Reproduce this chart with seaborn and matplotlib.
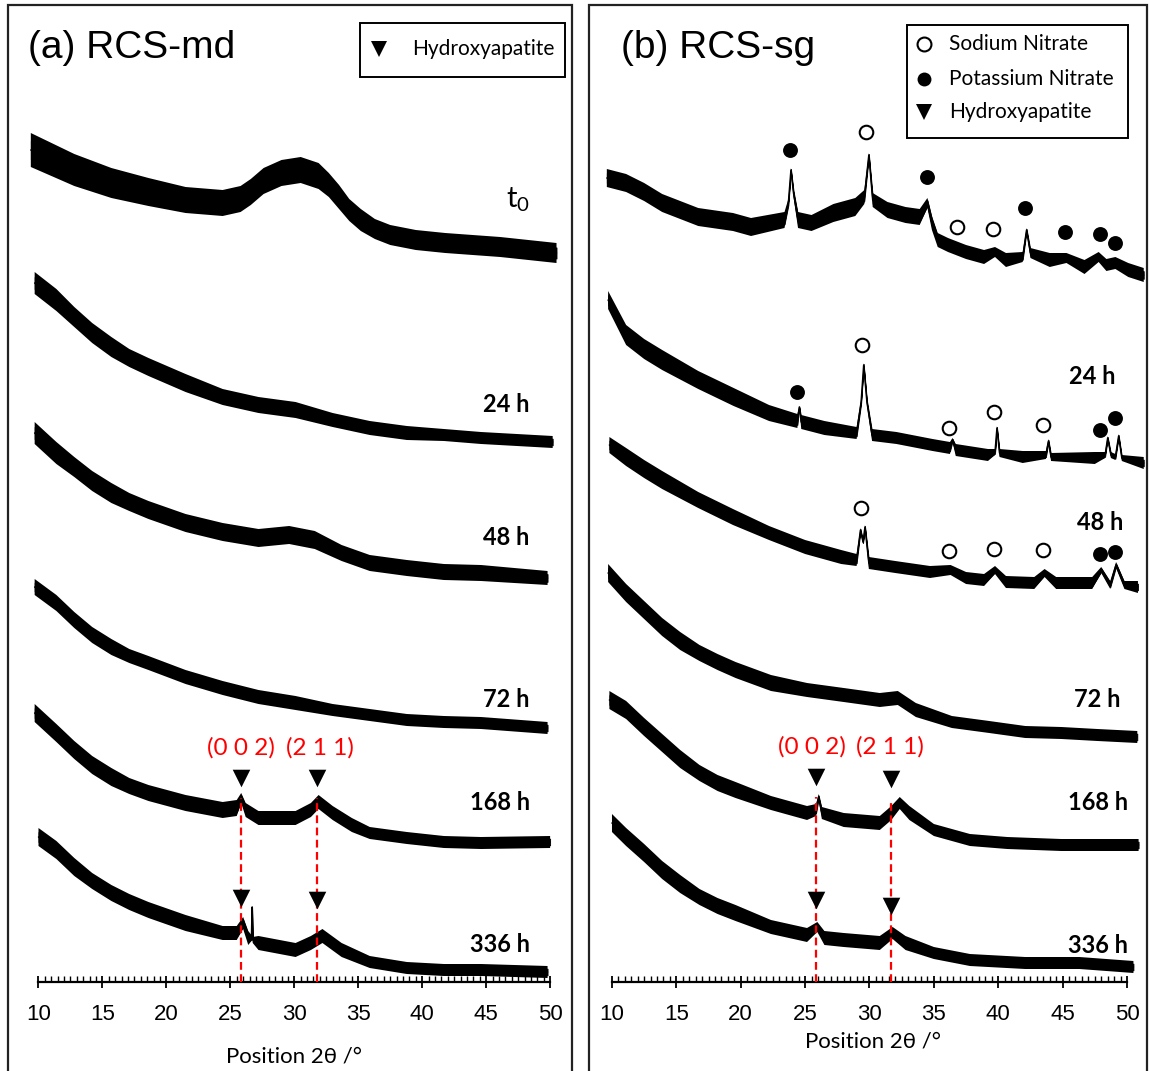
"""
XRD patterns of RCS-md and RCS-sg after immersion (t0 ... 336 h)
"""
import matplotlib.pyplot as plt
import seaborn as sns
import numpy as np
import pandas as pd
from matplotlib.patches import Rectangle

# ---- (a) RCS-md : 2theta (deg), stacked intensity (a.u.), noise half-width ----
md_t0_x = [9.4, 12.8, 15.7, 18.6, 21.5, 24.4, 25.8, 26.6, 27.6, 29.0, 30.5, 31.9, 32.7, 33.5, 34.3, 35.2, 36.3,
           37.5, 39.5, 41.8, 46.1, 50.5]
md_t0_y = [832, 812, 799, 790, 782, 779, 783, 790, 801, 809, 812, 806, 797, 785, 772, 762, 753,
           747, 742, 739, 735, 729]
md_t0_n = [17, 16, 15, 14, 13, 13, 13, 13, 13, 13, 13, 13, 12, 12, 11, 11, 10,
           10, 10, 10, 10, 10]

md_24_x = [9.7, 11.4, 12.8, 14.2, 15.7, 17.1, 18.6, 21.5, 24.4, 27.2, 30.1, 33.0, 35.9, 38.8, 41.7, 44.6, 50.2]
md_24_y = [699, 682, 665, 649, 635, 624, 615, 599, 585, 577, 572, 562, 554, 549, 547, 544, 540]
md_24_n = [11, 11, 10, 10, 10, 9, 9, 9, 8, 8, 8, 7, 7, 7, 6, 6, 6]

md_48_x = [9.7, 11.4, 12.8, 14.2, 15.7, 17.1, 18.6, 21.5, 24.4, 27.2, 29.6, 31.6, 33.7, 35.9, 38.8, 41.7, 44.6, 49.8]
md_48_y = [549, 529, 515, 501, 489, 480, 472, 459, 450, 444, 447, 442, 429, 419, 414, 410, 409, 404]
md_48_n = [11, 11, 10, 10, 10, 9, 9, 9, 9, 9, 9, 9, 8, 8, 8, 8, 8, 7]

md_72_x = [9.7, 11.4, 12.8, 14.2, 15.7, 17.1, 18.6, 21.5, 24.4, 27.2, 30.1, 33.0, 35.9, 38.8, 41.7, 44.6, 49.8]
md_72_y = [395, 379, 362, 347, 335, 326, 319, 305, 294, 285, 279, 272, 267, 262, 260, 259, 254]
md_72_n = [8, 8, 8, 8, 8, 7, 7, 7, 7, 7, 7, 6, 6, 6, 6, 6, 6]

md_168_x = [9.7, 11.4, 12.8, 14.2, 15.7, 17.1, 18.6, 21.5, 24.4, 25.5, 25.85, 26.2, 27.2, 30.1, 31.3, 31.9, 33.0,
            34.5, 35.9, 38.8, 41.7, 44.6, 50.0]
md_168_y = [269, 249, 232, 217, 205, 196, 189, 179, 172, 174, 184, 172, 164, 164, 172, 180, 169,
            157, 149, 144, 140, 139, 140]
md_168_n = [9, 9, 9, 9, 9, 8, 8, 8, 8, 8, 5, 7, 7, 7, 7, 7, 7, 7, 6, 6, 6, 6, 6]

md_336_x = [10.0, 11.4, 12.8, 14.2, 15.7, 17.1, 18.6, 21.5, 24.4, 25.5, 26.0, 26.4, 26.65, 26.7, 26.75, 27.2, 30.1,
            31.3, 32.2, 33.7, 35.9, 38.8, 41.7, 44.6, 49.8]
md_336_y = [145, 132, 115, 101, 89, 80, 72, 59, 49, 49, 59, 44, 44, 75, 42, 39, 32,
            39, 46, 32, 20, 14, 12, 12, 10]
md_336_n = [9, 9, 9, 8, 8, 8, 8, 8, 7, 7, 6, 7, 3, 1, 3, 7, 7, 7, 7, 7, 6, 6, 6, 6, 6]

# ---- (b) RCS-sg ----
sg_t0_x = [9.6, 11.1, 12.5, 13.9, 16.7, 19.4, 20.8, 23.4, 23.7, 23.9, 24.1, 24.45, 25.5, 27.2, 28.9, 29.6, 29.95, 30.25,
           31.4, 32.8, 33.9, 34.5, 34.85, 35.3, 36.1, 37.5, 38.9, 39.75, 40.6, 41.9, 42.2, 42.5, 44.0, 45.3, 46.7, 47.8,
           48.4, 49.1, 50.1, 51.3]
sg_t0_y = [804, 799, 790, 779, 765, 760, 755, 762, 779, 812, 789, 762, 759, 769, 775, 785, 827, 782,
           772, 767, 765, 779, 759, 742, 737, 730, 725, 730, 722, 725, 752, 729, 722, 724, 715, 725,
           717, 719, 712, 707]
sg_t0_n = [9, 9, 9, 9, 9, 9, 9, 8, 4, 2, 4, 8, 8, 9, 9, 7, 2, 7,
           8, 8, 8, 5, 7, 7, 7, 7, 7, 5, 7, 5, 2, 5, 7, 5, 7, 5,
           6, 6, 7, 7]

sg_24_x = [9.7, 11.1, 12.5, 13.9, 16.7, 19.45, 22.2, 24.4, 24.55, 24.7, 26.5, 29.0, 29.35, 29.55, 29.8, 30.2, 32.1, 34.9,
           36.25, 36.45, 36.7, 39.2, 39.75, 39.9, 40.1, 41.9, 43.7, 43.9, 44.1, 47.5, 48.3, 48.5, 48.75, 49.1, 49.35,
           49.6, 51.3]
sg_24_y = [682, 647, 633, 622, 602, 585, 569, 561, 575, 560, 554, 549, 580, 617, 580, 547, 544, 537,
           534, 542, 532, 527, 530, 554, 529, 525, 527, 541, 525, 524, 527, 544, 527, 525, 546,
           524, 519]
sg_24_n = [9, 10, 10, 10, 9, 9, 8, 7, 1, 7, 7, 6, 3, 2, 3, 6, 6, 6,
           6, 2, 6, 6, 3, 2, 4, 6, 4, 2, 4, 6, 3, 2, 3, 3, 2,
           3, 6]

sg_48_x = [9.8, 11.1, 12.5, 13.9, 16.7, 19.4, 22.2, 25.0, 27.8, 29.0, 29.3, 29.5, 29.65, 29.95, 32.0, 34.7, 36.3, 37.5,
           38.9, 39.75, 40.6, 42.8, 43.6, 44.5, 47.3, 48.0, 48.7, 49.15, 49.8, 50.85]
sg_48_y = [537, 525, 513, 502, 482, 465, 449, 435, 425, 422, 452, 440, 455, 419, 415, 410, 412, 404,
           402, 412, 400, 399, 409, 399, 399, 412, 397, 417, 397, 395]
sg_48_n = [8, 9, 9, 9, 8, 8, 7, 7, 7, 6, 2, 2, 2, 6, 6, 6, 5, 6,
           6, 4, 6, 6, 4, 6, 6, 3, 4, 3, 4, 6]

sg_72_x = [9.7, 11.1, 12.5, 13.9, 15.3, 16.8, 18.2, 19.6, 22.35, 25.15, 28.0, 30.8, 32.2, 33.6, 36.4, 39.3, 42.1, 44.9,
           47.7, 50.8]
sg_72_y = [409, 389, 372, 355, 341, 329, 320, 312, 299, 292, 287, 282, 284, 272, 260, 255, 250, 249, 247, 245]
sg_72_n = [9, 9, 9, 9, 9, 8, 8, 8, 8, 7, 7, 7, 7, 7, 6, 6, 6, 6, 6, 6]

sg_168_x = [9.8, 11.1, 12.5, 13.9, 15.3, 16.8, 18.2, 19.6, 22.35, 25.15, 25.85, 26.05, 26.3, 28.0, 30.8, 31.7, 32.35,
            33.1, 35.0, 37.8, 40.7, 44.9, 50.9]
sg_168_y = [282, 272, 255, 239, 223, 209, 199, 192, 179, 169, 172, 185, 169, 162, 159, 169, 179,
            169, 152, 142, 139, 137, 137]
sg_168_n = [9, 9, 9, 9, 9, 8, 8, 8, 7, 7, 6, 3, 6, 7, 7, 7, 6, 7, 6, 6, 6, 6, 6]

sg_336_x = [10.0, 11.1, 12.5, 13.9, 15.3, 16.8, 18.2, 19.6, 22.35, 25.15, 25.95, 26.5, 28.0, 30.8, 31.8, 32.8, 35.0,
            37.8, 42.1, 46.3, 50.5]
sg_336_y = [159, 145, 129, 112, 98, 85, 76, 69, 55, 47, 55, 44, 42, 39, 49, 39, 29, 22, 19, 19, 15]
sg_336_n = [9, 9, 9, 9, 9, 8, 8, 8, 7, 7, 5, 7, 7, 7, 6, 7, 6, 6, 6, 6, 6]

# sample labels (text, 2theta of right edge, height)
md_labels = ['$\\mathregular{t_0}$', '24 h', '48 h', '72 h', '168 h', '336 h']
md_label_x = [48.4, 48.4, 48.4, 48.4, 48.4, 48.4]
md_label_y = [782, 578, 445, 283, 180, 37]
sg_labels = ['24 h', '48 h', '72 h', '168 h', '336 h']
sg_label_x = [49.1, 49.7, 49.5, 50.1, 50.1]
sg_label_y = [606, 460, 283, 180, 36]

# hydroxyapatite reflections (0 0 2), (2 1 1)
hap_hkl = ['(0 0 2)', '(2 1 1)']
md_hap_x = [25.85, 31.8]
md_hap_168 = [204, 204]
md_hap_336 = [84, 82]
sg_hap_x = [25.85, 31.7]
sg_hap_168 = [205, 203]
sg_hap_336 = [82, 76]

# nitrate markers on RCS-sg
nano3_x = [29.73, 36.8, 39.6, 29.42, 36.17, 39.67, 43.48, 29.34, 36.17, 39.67, 43.48]
nano3_y = [850, 755, 753, 637, 554, 570, 557, 474, 431, 433, 432]
kno3_x = [23.83, 34.47, 42.08, 45.18, 47.9, 49.07, 24.37, 47.9, 49.07, 47.9, 49.07]
kno3_y = [832, 805, 774, 750, 748, 739, 590, 552, 564, 428, 430]

W, H = 1149, 1071


def fxy(px, py):
    # pixel position -> figure fraction
    return px / W, 1 - py / H


def draw_traces(ax, traces):
    frames = []
    for name, (x, y, n) in traces.items():
        x, y, n = np.asarray(x, float), np.asarray(y, float), np.asarray(n, float)
        # noisy fringe (vertical hatch) + dense core
        ax.fill_between(x, y - n, y + n, facecolor='none', edgecolor='black', hatch='|' * 28,
                        lw=0, clip_on=False, zorder=2)
        ax.fill_between(x, y - 0.55 * n, y + 0.55 * n, color='black', lw=0.6, clip_on=False, zorder=2)
        frames.append(pd.DataFrame({'two_theta': x, 'intensity': y, 'sample': name}))
    df = pd.concat(frames, ignore_index=True)
    sns.lineplot(data=df, x='two_theta', y='intensity', units='sample', estimator=None, sort=False,
                 color='black', lw=1.1, legend=False, ax=ax, zorder=3)
    for ln in ax.lines:
        ln.set_clip_on(False)


def style_axis(ax, xlim, labelpad):
    ax.set_xlim(*xlim)
    ax.set_ylim(0, 977)
    ax.patch.set_alpha(0)
    for s in ['left', 'right', 'top']:
        ax.spines[s].set_visible(False)
    ax.spines['bottom'].set_bounds(10, 50)
    ax.spines['bottom'].set_linewidth(1.6)
    ax.spines['bottom'].set_color('black')
    ax.set_xticks(range(10, 51, 5))
    ax.set_xticks(np.arange(10, 50.01, 0.5), minor=True)
    ax.tick_params(axis='x', which='major', direction='inout', length=9, width=1.3, colors='black',
                   labelsize=16, pad=11, labelfontfamily='Liberation Sans', bottom=True)
    ax.tick_params(axis='x', which='minor', direction='in', length=4.5, width=1.0, colors='black', bottom=True)
    ax.set_yticks([])
    ax.set_xlabel('Position 2θ /°', fontsize=16, color='black', labelpad=labelpad)
    ax.set_ylabel('')


sns.set_theme(style='white')
plt.rcParams['font.family'] = ['Lato', 'DejaVu Sans']
plt.rcParams['mathtext.default'] = 'regular'
plt.rcParams['hatch.linewidth'] = 0.7

fig = plt.figure(figsize=(W / 100, H / 100), dpi=100)
ax_a = fig.add_axes([0.02237, 0.0831, 0.46754, 0.91223])
ax_b = fig.add_axes([0.52141, 0.0831, 0.47737, 0.91223])

draw_traces(ax_a, {'t0': (md_t0_x, md_t0_y, md_t0_n), '24h': (md_24_x, md_24_y, md_24_n),
                   '48h': (md_48_x, md_48_y, md_48_n), '72h': (md_72_x, md_72_y, md_72_n),
                   '168h': (md_168_x, md_168_y, md_168_n), '336h': (md_336_x, md_336_y, md_336_n)})
draw_traces(ax_b, {'t0': (sg_t0_x, sg_t0_y, sg_t0_n), '24h': (sg_24_x, sg_24_y, sg_24_n),
                   '48h': (sg_48_x, sg_48_y, sg_48_n), '72h': (sg_72_x, sg_72_y, sg_72_n),
                   '168h': (sg_168_x, sg_168_y, sg_168_n), '336h': (sg_336_x, sg_336_y, sg_336_n)})

style_axis(ax_a, (9.0, 51.0), 16)
style_axis(ax_b, (9.0, 51.6), 5)

# sample labels
for txt, x, y in zip(md_labels, md_label_x, md_label_y):
    bold = 'normal' if 't_0' in txt else 'bold'
    size = 21 if 't_0' in txt else 17
    ax_a.text(x, y, txt, ha='right', va='center', fontsize=size, fontweight=bold, color='black')
for txt, x, y in zip(sg_labels, sg_label_x, sg_label_y):
    ax_b.text(x, y, txt, ha='right', va='center', fontsize=17, fontweight='bold', color='black')

# HAp reflections: red dashed guides, triangles, hkl labels
for ax, hx, h168, h336, lab_dx in [(ax_a, md_hap_x, md_hap_168, md_hap_336, [0.0, 0.2]),
                                   (ax_b, sg_hap_x, sg_hap_168, sg_hap_336, [-0.3, -0.1])]:
    ax.vlines(hx, 0, [h - 20 for h in h168], colors='red', linestyles=(0, (3.5, 2)), lw=1.6, zorder=4)
    sns.scatterplot(x=hx + hx, y=h168 + h336, marker='v', s=160, color='black', edgecolor='black',
                    linewidth=0, ax=ax, zorder=5, legend=False)
    for x, d, t in zip(hx, lab_dx, hap_hkl):
        ax.text(x + d, h168[0] + 30, t, ha='center', va='center', color='red', fontsize=17.5)

# nitrate markers
sns.scatterplot(x=nano3_x, y=nano3_y, marker='o', s=95, facecolor='white', edgecolor='black', linewidth=1.5,
                ax=ax_b, zorder=5, legend=False)
sns.scatterplot(x=kno3_x, y=kno3_y, marker='o', s=115, color='black', edgecolor='black', linewidth=0,
                ax=ax_b, zorder=5, legend=False)

# panel titles
fig.text(*fxy(28, 48), '(a) RCS-md', fontsize=28, family='Liberation Sans', va='center', ha='left', color='black')
fig.text(*fxy(621, 48), '(b) RCS-sg', fontsize=28, family='Liberation Sans', va='center', ha='left', color='black')

# panel frames
for x0, x1 in [(8, 572), (589, 1147)]:
    fx0, fy0 = fxy(x0, 1080)
    fx1, fy1 = fxy(x1, 5)
    fig.add_artist(Rectangle((fx0, fy0), fx1 - fx0, fy1 - fy0, transform=fig.transFigure,
                             fill=False, edgecolor='#222222', lw=1.6))

# legend boxes
for x0, y0, x1, y1 in [(360, 23, 565, 77), (907, 25, 1128, 138)]:
    fx0, fy0 = fxy(x0, y1)
    fx1, fy1 = fxy(x1, y0)
    fig.add_artist(Rectangle((fx0, fy0), fx1 - fx0, fy1 - fy0, transform=fig.transFigure,
                             fill=False, edgecolor='black', lw=1.4))

leg_a = [('v', 'black', 'Hydroxyapatite', 379, 412, 49)]
leg_b = [('o', 'white', 'Sodium Nitrate', 924, 949, 44),
         ('o', 'black', 'Potassium Nitrate', 924, 949, 79),
         ('v', 'black', 'Hydroxyapatite', 924, 949, 112)]
for m, fc, txt, mx, tx, py in leg_a + leg_b:
    ms = 11 if m == 'v' else 10
    fig.lines.append(plt.Line2D([mx / W], [1 - py / H], marker=m, markersize=ms, markerfacecolor=fc,
                                markeredgecolor='black', markeredgewidth=1.5 if fc == 'white' else 0,
                                ls='none', transform=fig.transFigure))
    fig.text(*fxy(tx, py), txt, fontsize=15, va='center', ha='left', color='black')

plt.savefig('out.png', dpi=100)
plt.close()
